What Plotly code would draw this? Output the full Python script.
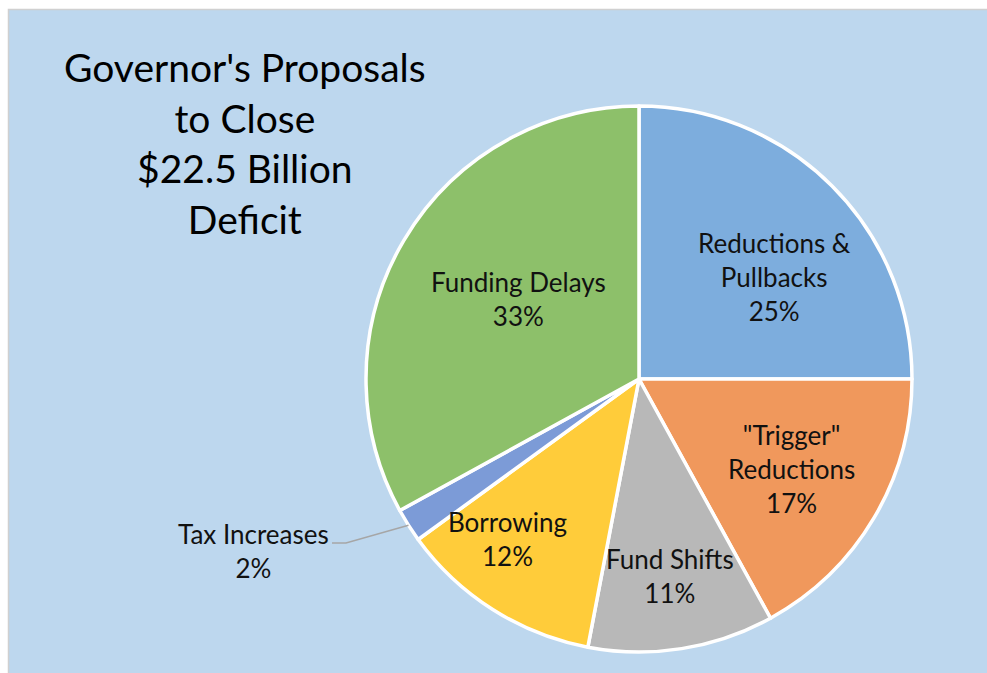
import math
import plotly.graph_objects as go

# Proposal categories and their share of the $22.5B deficit (percent)
categories = ["Reductions &<br>Pullbacks", "\"Trigger\"<br>Reductions", "Fund Shifts",
              "Borrowing", "Tax Increases", "Funding Delays"]
shares = [25, 17, 11, 12, 2, 33]
colors = ["#7DADDD", "#F0985C", "#B8B8B8", "#FFCC3A", "#7C9BD7", "#8DC06A"]

W, H = 987, 673
CX, CY, R = 639, 379, 273          # pie centre and radius in pixels
FONT = "Lato, Open Sans, sans-serif"


def px(x):
    return x / W


def py(y):
    return 1 - y / H


fig = go.Figure()
fig.add_trace(go.Pie(
    labels=categories,
    values=shares,
    sort=False,
    direction="clockwise",
    rotation=0,
    marker=dict(colors=colors, line=dict(color="white", width=3.5)),
    textinfo="none",
    hoverinfo="label+percent",
    showlegend=False,
    domain=dict(x=[px(CX - R), px(CX + R)], y=[py(CY + R), py(CY - R)]),
))

# label placement per slice: (fraction of radius, angular nudge in degrees)
label_place = [(0.62, 8), (0.65, 0), (0.73, 0), (0.76, 7), None, (0.53, 3)]

total = sum(shares)
cum = 0
annotations = []
mid_angles = []
for name, v, place in zip(categories, shares, label_place):
    mid = (cum + v / 2) / total * 360
    mid_angles.append(mid)
    cum += v
    if place is None:
        continue
    frac, nudge = place
    a = math.radians(mid + nudge)
    lx = CX + frac * R * math.sin(a)
    ly = CY - frac * R * math.cos(a)
    annotations.append(dict(
        x=px(lx), y=py(ly), xref="paper", yref="paper",
        text=f"{name}<br>{v}%", showarrow=False,
        xanchor="center", yanchor="middle",
        font=dict(family=FONT, size=26, color="#111111"),
    ))

# small slice labelled outside with a leader line
tax_i = categories.index("Tax Increases")
a = math.radians(mid_angles[tax_i])
ex = CX + R * math.sin(a)
ey = CY - R * math.cos(a)
annotations.append(dict(
    x=px(253), y=py(551), xref="paper", yref="paper",
    text=f"{categories[tax_i]}<br>{shares[tax_i]}%", showarrow=False,
    xanchor="center", yanchor="middle",
    font=dict(family=FONT, size=26, color="#111111"),
))

# chart title
annotations.append(dict(
    x=px(245), y=py(143), xref="paper", yref="paper",
    text="Governor's Proposals<br>to Close<br>$22.5 Billion<br>Deficit",
    showarrow=False, xanchor="center", yanchor="middle",
    font=dict(family=FONT, size=39, color="#000000"),
))

shapes = [
    dict(type="rect", xref="paper", yref="paper", layer="below",
         x0=px(8.5), x1=1.02, y0=-0.02, y1=py(9.5),
         fillcolor="#BDD7EE", line=dict(color="#D0D0D0", width=1.5)),
    dict(type="path", xref="paper", yref="paper", layer="above",
         path=f"M {px(332)} {py(543)} L {px(346)} {py(543)} L {px(ex)} {py(ey)}",
         line=dict(color="#A6A6A6", width=1.5)),
]

fig.update_layout(
    width=W, height=H,
    margin=dict(l=0, r=0, t=0, b=0),
    paper_bgcolor="white",
    annotations=annotations,
    shapes=shapes,
)

fig.write_html("out.html")
